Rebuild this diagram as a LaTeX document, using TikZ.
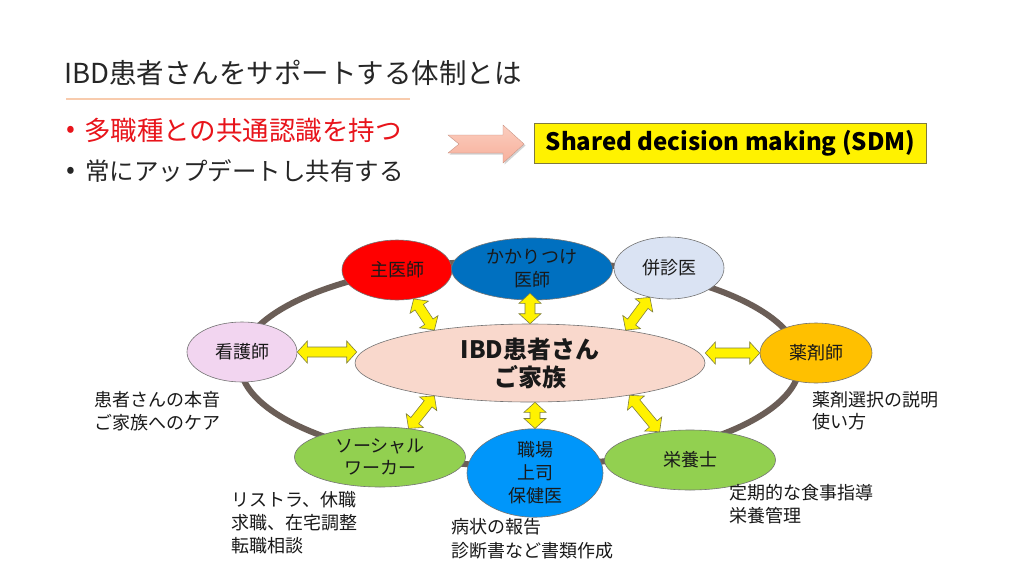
\documentclass[tikz,border=0pt]{standalone}
\usepackage{fontspec}
\setmainfont{Noto Sans CJK JP}
\usetikzlibrary{calc,shapes.geometric,shadows}
\definecolor{ringc}{HTML}{6B5E57}
\definecolor{titlec}{HTML}{262626}
\definecolor{redc}{HTML}{E8141B}
\definecolor{linec}{HTML}{F8CBAD}
\definecolor{pinkarr}{HTML}{F7B09C}
\definecolor{pinkarrl}{HTML}{FBCDBE}
\definecolor{sdmb}{HTML}{7F7A40}
\definecolor{arrc}{HTML}{7F7F3F}
\definecolor{shuc}{HTML}{FF0000}
\definecolor{kkc}{HTML}{0070C0}
\definecolor{hsc}{HTML}{DAE3F3}
\definecolor{kgc}{HTML}{F2D5F0}
\definecolor{cc}{HTML}{F9D8CC}
\definecolor{ykc}{HTML}{FFC000}
\definecolor{grc}{HTML}{92D050}
\definecolor{skc}{HTML}{0096FA}
\newcommand\ahl{10pt}
\newcommand\ahw{11pt}
\newcommand\asw{5pt}
\newcommand\dblarrow[2]{%
  \filldraw[yarr] (#1) -- ($(#1)!\ahl!(#2)!\ahw!90:(#2)$) -- ($(#1)!\ahl!(#2)!\asw!90:(#2)$)
   -- ($(#2)!\ahl!(#1)!\asw!-90:(#1)$) -- ($(#2)!\ahl!(#1)!\ahw!-90:(#1)$) -- (#2)
   -- ($(#2)!\ahl!(#1)!\ahw!90:(#1)$) -- ($(#2)!\ahl!(#1)!\asw!90:(#1)$)
   -- ($(#1)!\ahl!(#2)!\asw!-90:(#2)$) -- ($(#1)!\ahl!(#2)!\ahw!-90:(#2)$) -- cycle;}
\begin{document}
\begin{tikzpicture}[x=1pt,y=-1pt,
  bub/.style={ellipse, draw=black!55, line width=0.6pt, inner sep=0pt, align=center,
    font=\fontsize{18}{22}\selectfont, text=black!90},
  note/.style={anchor=west, align=left, inner sep=0pt, font=\fontsize{18}{22.5}\selectfont, text=black!90},
  yarr/.style={fill=yellow, draw=arrc, line width=0.6pt, line join=miter},
  head/.style={anchor=west, inner sep=0pt, font=\fontsize{27.5}{30}\selectfont}]
\useasboundingbox (0,0) rectangle (1024,576);
\fill[white] (0,0) rectangle (1024,576);

% title and bullets
\node[head, text=titlec] (title) at (64,73) {IBD患者さんをサポートする体制とは};
\draw[linec, line width=2.5pt] (66,99) -- (410,99);
\node[inner sep=0pt, font=\fontsize{26}{30}\selectfont, text=redc] (d1) at (71,132) {•};
\node[head, text=redc, font=\fontsize{26.5}{30}\selectfont] (b1) at (84,130) {多職種との共通認識を持つ};
\node[inner sep=0pt, font=\fontsize{26}{30}\selectfont, text=titlec] (d2) at (71,173) {•};
\node[head, text=titlec, font=\fontsize{24.5}{30}\selectfont] (b2) at (85,171) {常にアップデートし共有する};

% pink arrow
\path[top color=pinkarrl, bottom color=pinkarr, draw=pinkarr!80!black, line width=0.3pt,
  drop shadow={opacity=0.35, shadow xshift=1.5pt, shadow yshift=-1.5pt}]
  (448,135) -- (503,135) -- (503,125) -- (524,144) -- (503,163) -- (503,153) -- (448,153) -- (459,144) -- cycle;

% SDM box
\node[draw=sdmb, fill=yellow, line width=0.8pt, minimum width=392pt, minimum height=40pt, inner sep=0pt,
  font=\bfseries\fontsize{24}{28}\selectfont] (sdm) at (730.5,143.5) {Shared decision making (SDM)};

% ring
\node[ellipse, draw=ringc, line width=6pt, minimum width=560pt, minimum height=206pt, inner sep=0pt] (ring) at (520,363) {};

% nodes
\node[bub, fill=shuc, minimum width=110pt, minimum height=60pt] (sh) at (397,270) {主医師};
\node[bub, fill=hsc, minimum width=110pt, minimum height=62pt] (hs) at (669,268) {併診医};
\node[bub, fill=kkc, minimum width=161pt, minimum height=62pt, font=\fontsize{18}{23}\selectfont] (kk) at (532,269) {かかりつけ\\医師};
\node[bub, fill=kgc, minimum width=110pt, minimum height=60pt] (kg) at (242,352) {看護師};
\node[bub, fill=cc, minimum width=350pt, minimum height=78pt, font=\bfseries\fontsize{24}{28}\selectfont] (C) at (530,363) {IBD患者さん\\ご家族};
\node[bub, fill=ykc, minimum width=112pt, minimum height=60pt] (yk) at (816,353) {薬剤師};
\node[bub, fill=grc, minimum width=171pt, minimum height=60pt, font=\fontsize{18}{21.5}\selectfont] (sw) at (380,457) {ソーシャル\\ワーカー};
\node[bub, fill=grc, minimum width=171pt, minimum height=60pt] (ey) at (690,460) {栄養士};
\node[bub, fill=skc, minimum width=136pt, minimum height=78pt, font=\fontsize{18}{23}\selectfont] (sk) at (535,473) {職場\\上司\\保健医};

% arrow end points
\coordinate (kkA) at ($(kk.south)+(-2,-7)$);
\coordinate (kgC) at ($(C.west |- kg.east)+(2,0)$);
\coordinate (ykC) at (C.east |- yk.west);
\coordinate (skC) at (sk.north |- C.south);

\dblarrow{sh.-60}{C.161}
\dblarrow{kkA}{C.north}
\dblarrow{hs.-123}{C.19}
\dblarrow{kg.east}{kgC}
\dblarrow{ykC}{yk.west}
\dblarrow{sw.45}{C.-161}
\dblarrow{sk.north}{skC}
\dblarrow{ey.137}{C.-18}

% notes
\node[note] (n1) at (94,411) {患者さんの本音\\ご家族へのケア};
\node[note] (n2) at (812,410.5) {薬剤選択の説明\\使い方};
\node[note, font=\fontsize{18}{23}\selectfont] (n3) at (231,523) {リストラ、休職\\求職、在宅調整\\転職相談};
\node[note, font=\fontsize{18}{24}\selectfont] (n4) at (451,539) {病状の報告\\診断書など書類作成};
\node[note] (n5) at (729,504) {定期的な食事指導\\栄養管理};
\end{tikzpicture}
\end{document}
